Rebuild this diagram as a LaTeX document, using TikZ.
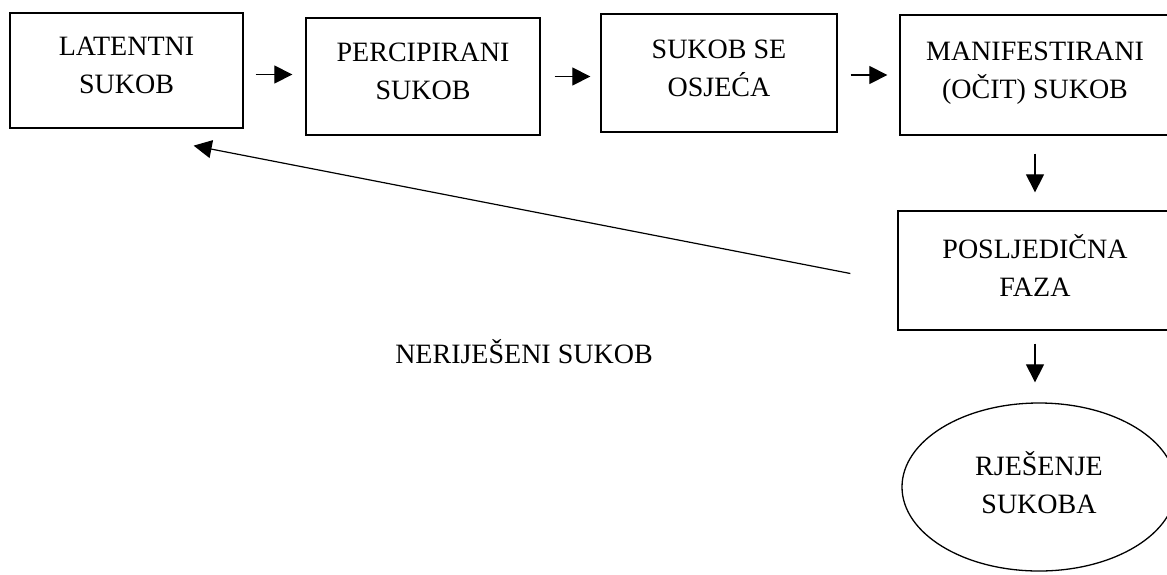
\documentclass[tikz,border=0pt]{standalone}
\usepackage{fontspec}
\setmainfont{Liberation Serif}
\usetikzlibrary{arrows.meta,shapes.geometric}
\begin{document}
\begin{tikzpicture}[x=1pt,y=-1pt,
    box/.style={draw,line width=1.3pt,align=center,text depth=10pt,font=\fontsize{28}{38}\selectfont},
    arr/.style={line width=1.2pt,-{Triangle[length=18pt,width=18pt]}}]

    \useasboundingbox (0,0) rectangle (1167,574);

    % Stages in the top row
    \node[box,minimum width=233pt,minimum height=115pt] (latent) at (126.5,70.5) {LATENTNI\\SUKOB};
    \node[box,minimum width=234pt,minimum height=117pt] (perc) at (423,76.5) {PERCIPIRANI\\SUKOB};
    \node[box,minimum width=236pt,minimum height=118pt] (osj) at (719,73) {SUKOB SE\\OSJEĆA};
    \node[box,minimum width=270pt,minimum height=120pt] (manif) at (1035,75) {MANIFESTIRANI\\(OČIT) SUKOB}; % cut by the right edge

    % Right column
    \node[box,minimum width=274pt,minimum height=119pt] (posl) at (1035,270.5) {POSLJEDIČNA\\FAZA};
    \node[box,ellipse,minimum width=274pt,minimum height=168pt] (rjes) at (1039,487) {RJEŠENJE\\SUKOBA};

    % Label under the feedback arrow
    \node[font=\fontsize{28}{38}\selectfont,anchor=base] (nerij) at (524,363) {NERIJEŠENI SUKOB};

    % Arrows between stages
    \draw[arr,shorten <=12pt,shorten >=13pt] ([yshift=-4pt]latent.east) -- ([yshift=-4pt]latent.east -| perc.west);
    \draw[arr,shorten <=14pt,shorten >=10pt] (perc.east) -- (perc.east -| osj.west);
    \draw[arr,shorten <=13pt,shorten >=12pt] ([yshift=-2pt]osj.east) -- ([yshift=-2pt]osj.east -| manif.west);
    \draw[arr,shorten <=18pt,shorten >=18pt] (manif.south) -- (posl.north);
    \draw[arr,shorten <=13pt,shorten >=20pt] (posl.south) -- (posl.south |- rjes.north);

    % Unresolved conflict goes back to the start
    \draw[arr] ([xshift=-47pt,yshift=-3pt]posl.west) -- ([xshift=-50pt,yshift=-17pt]latent.south east);

\end{tikzpicture}
\end{document}
